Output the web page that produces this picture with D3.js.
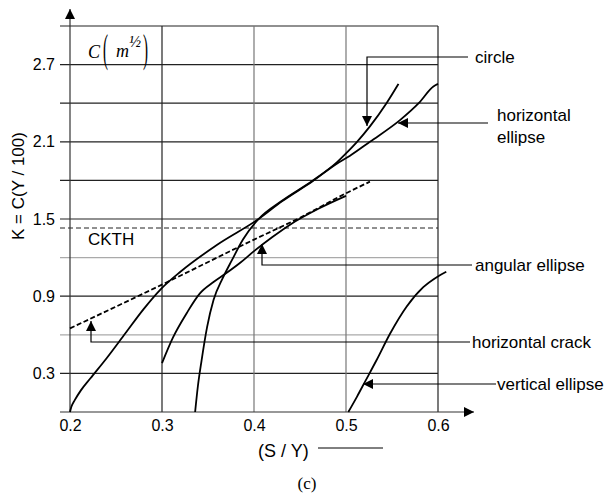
<!DOCTYPE html>
<html>
<head>
<meta charset="utf-8">
<script src="https://cdn.jsdelivr.net/npm/d3@7"></script>
<style>
  body { margin: 0; background: #fff; }
  text { font-family: "Liberation Sans", Arial, sans-serif; fill: #000; }
  .serif text { font-family: "Liberation Serif", "Times New Roman", serif; }
</style>
</head>
<body>
<svg id="chart" width="610" height="495"></svg>
<script>
// tick labels
const xTicks = [0.2, 0.3, 0.4, 0.5, 0.6];
const yTicks = [0.3, 0.9, 1.5, 2.1, 2.7];
const yGrid = [0.3, 0.6, 0.9, 1.2, 1.5, 1.8, 2.1, 2.4, 2.7, 3.0];
const yGridLight = [0.6, 1.2];
const xGrid = [0.3, 0.4, 0.5, 0.6];
const xGridDark = [0.3, 0.6];
const ckth = 1.43;

// curves, [S/Y, K]
const circle = [[0.336, 0], [0.339, 0.2], [0.343, 0.4], [0.349, 0.66], [0.356, 0.87], [0.366, 1.04],
  [0.376, 1.18], [0.388, 1.34], [0.405, 1.50], [0.43, 1.64], [0.464, 1.80], [0.49, 1.94],
  [0.5, 2.01], [0.512, 2.10], [0.526, 2.22], [0.544, 2.40], [0.557, 2.55]];
const horizEllipse = [[0.2, 0], [0.2015, 0.04], [0.205, 0.09], [0.212, 0.17], [0.222, 0.26], [0.24, 0.42],
  [0.26, 0.61], [0.28, 0.80], [0.298, 0.95], [0.32, 1.09], [0.36, 1.30], [0.405, 1.50], [0.43, 1.635],
  [0.464, 1.795], [0.49, 1.93], [0.504, 1.99], [0.526, 2.10], [0.559, 2.27], [0.579, 2.40],
  [0.595, 2.53], [0.6, 2.55]];
const angularEllipse = [[0.3, 0.38], [0.312, 0.58], [0.327, 0.77], [0.341, 0.92], [0.356, 1.01],
  [0.37, 1.08], [0.385, 1.16], [0.4, 1.25], [0.42, 1.36], [0.44, 1.46], [0.47, 1.58], [0.5, 1.68]];
const horizCrack = [[0.2, 0.65], [0.3, 0.99], [0.4, 1.34], [0.45, 1.51], [0.5, 1.70], [0.526, 1.79]];
const vertEllipse = [[0.5025, 0], [0.512, 0.12], [0.521, 0.24], [0.533, 0.40], [0.548, 0.61],
  [0.566, 0.82], [0.584, 0.97], [0.599, 1.05], [0.609, 1.09]];

const svg = d3.select('#chart');

const x = d3.scaleLinear().domain([0.2, 0.6]).range([70, 438]);
const y = d3.scaleLinear().domain([0, 3]).range([412, 26]);

// grid
svg.append('g')
  .selectAll('line')
  .data(yGrid)
  .enter().append('line')
    .attr('x1', 60)
    .attr('x2', x(0.6))
    .attr('y1', d => y(d))
    .attr('y2', d => y(d))
    .attr('stroke', d => yGridLight.includes(d) ? '#aaa' : '#222')
    .attr('stroke-width', 1.2);

svg.append('g')
  .selectAll('line')
  .data(xGrid)
  .enter().append('line')
    .attr('x1', d => x(d))
    .attr('x2', d => x(d))
    .attr('y1', y(3))
    .attr('y2', y(0))
    .attr('stroke', d => xGridDark.includes(d) ? '#222' : '#777')
    .attr('stroke-width', 1.2);

// CKTH threshold
svg.append('line')
  .attr('x1', 60).attr('x2', x(0.6))
  .attr('y1', y(ckth)).attr('y2', y(ckth))
  .attr('stroke', '#222')
  .attr('stroke-dasharray', '5,3');

svg.append('text')
  .attr('x', 88).attr('y', 245)
  .style('font-size', '17px')
  .text('CKTH');

// arrowheads
const defs = svg.append('defs');
defs.append('marker')
  .attr('id', 'arrow')
  .attr('viewBox', '0 0 10 10')
  .attr('refX', 10).attr('refY', 5)
  .attr('markerWidth', 10).attr('markerHeight', 10)
  .attr('markerUnits', 'userSpaceOnUse')
  .attr('orient', 'auto')
  .append('path')
    .attr('d', 'M0,0L10,5L0,10Z')
    .attr('fill', '#000');

// axes
svg.append('line')
  .attr('x1', x(0.2)).attr('x2', x(0.2))
  .attr('y1', y(0)).attr('y2', 9)
  .attr('stroke', '#333').attr('stroke-width', 1.2)
  .attr('marker-end', 'url(#arrow)');
svg.append('line')
  .attr('x1', 60).attr('x2', 474)
  .attr('y1', y(0)).attr('y2', y(0))
  .attr('stroke', '#333').attr('stroke-width', 1.2)
  .attr('marker-end', 'url(#arrow)');

const yAxis = svg.append('g')
  .attr('transform', `translate(${x(0.2)},0)`)
  .call(d3.axisLeft(y).tickValues(yTicks).tickSize(0).tickPadding(15).tickFormat(d3.format('.1f')));
const xAxis = svg.append('g')
  .attr('transform', `translate(0,${y(0)})`)
  .call(d3.axisBottom(x).tickValues(xTicks).tickSize(0).tickPadding(8).tickFormat(d3.format('.1f')));
[yAxis, xAxis].forEach(a => {
  a.select('.domain').remove();
  a.selectAll('text')
    .style('font-family', '"Liberation Sans", Arial, sans-serif')
    .style('font-size', '16px')
    .attr('fill', '#000');
});

// curves
const line = d3.line()
  .x(d => x(d[0]))
  .y(d => y(d[1]))
  .curve(d3.curveMonotoneX);

const curves = [
  { data: circle, dash: null },
  { data: horizEllipse, dash: null },
  { data: angularEllipse, dash: null },
  { data: vertEllipse, dash: null },
  { data: horizCrack, dash: '5,2.5' }
];
svg.append('g')
  .selectAll('path')
  .data(curves)
  .enter().append('path')
    .attr('d', d => line(d.data))
    .attr('fill', 'none')
    .attr('stroke', '#000')
    .attr('stroke-width', 1.8)
    .attr('stroke-dasharray', d => d.dash);

// callouts: label, text position, leader polyline
const callouts = [
  { lines: ['circle'], tx: 475, ty: 63, path: [[468, 57], [367, 57], [367, 126]] },
  { lines: ['horizontal', 'ellipse'], tx: 497, ty: 121, path: [[488, 123], [398, 123]] },
  { lines: ['angular ellipse'], tx: 475, ty: 271, path: [[472, 265], [262, 265], [262, 244]] },
  { lines: ['horizontal crack'], tx: 472, ty: 348, path: [[470, 342], [91, 342], [91, 321]] },
  { lines: ['vertical ellipse'], tx: 497, ty: 390, path: [[496, 384], [363, 384]] }
];

callouts.forEach(c => {
  svg.append('path')
    .attr('d', d3.line()(c.path))
    .attr('fill', 'none')
    .attr('stroke', '#000')
    .attr('stroke-width', 1.2)
    .attr('marker-end', 'url(#arrow)');
  const t = svg.append('text')
    .attr('x', c.tx).attr('y', c.ty)
    .style('font-size', '17px');
  c.lines.forEach((s, i) => {
    t.append('tspan').attr('x', c.tx).attr('dy', i === 0 ? 0 : 22).text(s);
  });
});

// axis titles
svg.append('text')
  .attr('transform', 'translate(24,186) rotate(-90)')
  .attr('text-anchor', 'middle')
  .style('font-size', '17px')
  .text('K = C(Y / 100)');

svg.append('text')
  .attr('x', 258).attr('y', 457)
  .style('font-size', '18px')
  .text('(S / Y)');
svg.append('line')
  .attr('x1', 318).attr('x2', 383)
  .attr('y1', 448).attr('y2', 448)
  .attr('stroke', '#000').attr('stroke-width', 1);

svg.append('g').attr('class', 'serif')
  .append('text')
  .attr('x', 307).attr('y', 489)
  .attr('text-anchor', 'middle')
  .style('font-size', '17px')
  .text('(c)');

// unit label C(m^1/2)
const unit = svg.append('g').attr('class', 'serif');
unit.append('text').attr('x', 88).attr('y', 58)
  .style('font-style', 'italic').style('font-size', '18px').text('C');
unit.append('text').attr('x', 103).attr('y', 56)
  .attr('transform', 'translate(103,50) scale(0.75,2.0) translate(-103,-50)')
  .style('font-size', '20px').text('(');
unit.append('text').attr('x', 116).attr('y', 57)
  .style('font-style', 'italic').style('font-size', '18px').text('m');
unit.append('text').attr('x', 129).attr('y', 47)
  .style('font-style', 'italic').style('font-size', '16px').text('½');
unit.append('text').attr('x', 143).attr('y', 56)
  .attr('transform', 'translate(143,50) scale(0.75,2.0) translate(-143,-50)')
  .style('font-size', '20px').text(')');
</script>
</body>
</html>
